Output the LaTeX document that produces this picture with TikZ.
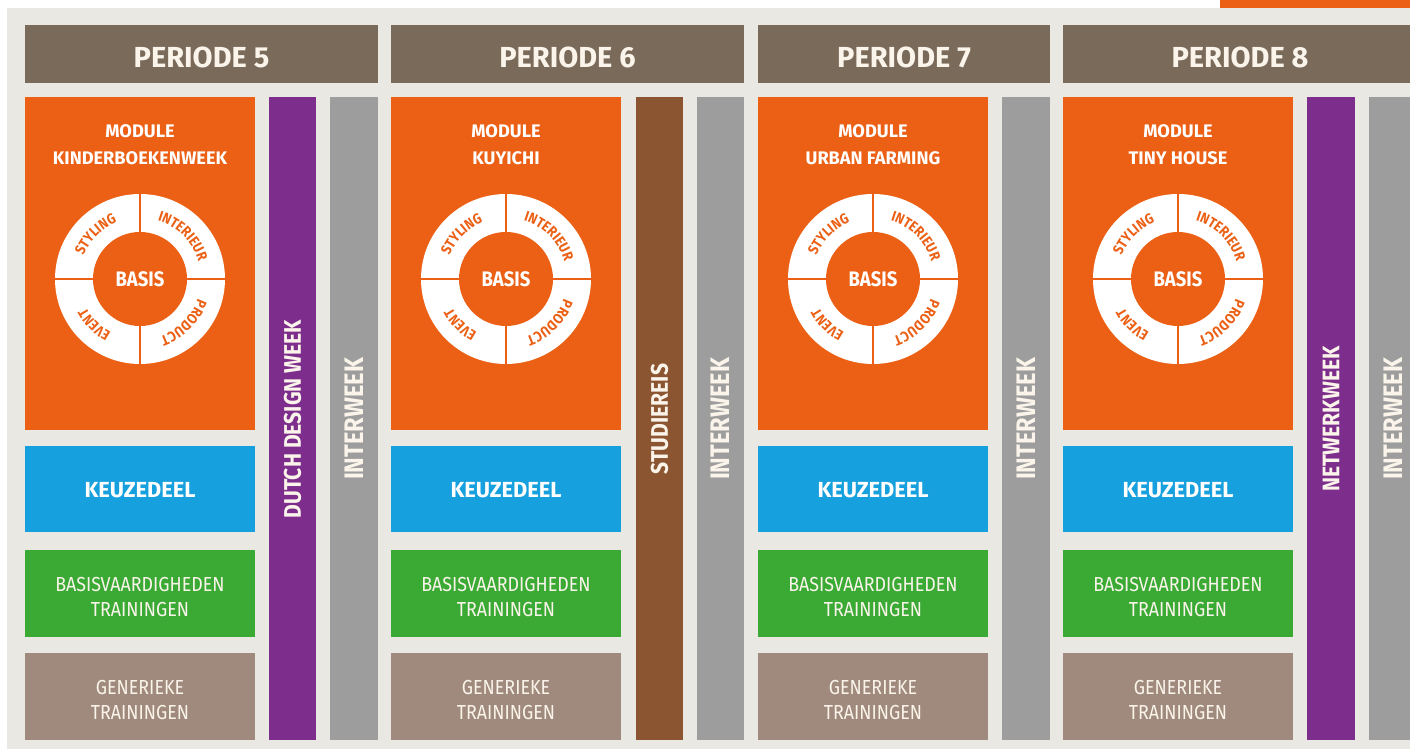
\documentclass[tikz,border=0pt]{standalone}
\usepackage{fontspec}
\setmainfont{Fira Sans}
\newfontfamily\narrowfont{Fira Sans}[FakeStretch=0.88]
\usetikzlibrary{decorations.text}

\definecolor{pagegray}{RGB}{233,232,227}
\definecolor{modorange}{RGB}{235,96,20}
\definecolor{headbrown}{RGB}{122,106,90}
\definecolor{keuzeblue}{RGB}{23,160,222}
\definecolor{basisgreen}{RGB}{58,170,53}
\definecolor{genbrown}{RGB}{160,138,125}
\definecolor{weekpurple}{RGB}{125,45,140}
\definecolor{reisbrown}{RGB}{140,85,50}
\definecolor{intergray}{RGB}{157,157,157}
\definecolor{creamtext}{RGB}{250,244,234}

\newcommand\ringfont{\narrowfont\bfseries\fontsize{14.5}{14.5}\selectfont}
\tikzset{
	head/.style={text=creamtext, inner sep=0pt, font=\bfseries\fontsize{29}{29}\selectfont},
	modtitle/.style={text=white, inner sep=0pt, align=center, font=\bfseries\fontsize{18.2}{27}\selectfont},
	basis/.style={text=white, inner sep=0pt, font=\narrowfont\bfseries\fontsize{21}{21}\selectfont},
	keuze/.style={text=white, inner sep=0pt, font=\bfseries\fontsize{21.8}{21.8}\selectfont},
	training/.style={text=creamtext, inner sep=0pt, align=center, font=\narrowfont\fontsize{20.3}{25}\selectfont},
	weektext/.style={text=creamtext, inner sep=0pt, rotate=90, font=\narrowfont\bfseries\fontsize{24}{24}\selectfont},
	intertext/.style={weektext, font=\narrowfont\bfseries\fontsize{26.8}{26.8}\selectfont},
	ringtext/.style={decorate, decoration={text along path, text align=center, text color=modorange, text={|\ringfont|#1}}}
}
% wheel: centre x, centre y, name of the centre node
\newcommand\wheel[3]{
	\fill[white] (#1,#2) circle (85);
	\draw[modorange, line width=2.5] ({#1-86},#2) -- ({#1+86},#2);
	\draw[modorange, line width=2.5] (#1,{#2-86}) -- (#1,{#2+86});
	\fill[modorange] (#1,#2) circle (47);
	\node[basis] (#3) at (#1,#2) {BASIS};
	\path[ringtext=STYLING] (#1,#2) ++(180:61) arc[start angle=180, end angle=90, radius=61];
	\path[ringtext=INTERIEUR] (#1,#2) ++(90:61) arc[start angle=90, end angle=0, radius=61];
	\path[ringtext=PRODUCT] (#1,#2) ++(0:61) arc[start angle=0, end angle=-90, radius=61];
	\path[ringtext=EVENT] (#1,#2) ++(-90:61) arc[start angle=-90, end angle=-180, radius=61];
}

\begin{document}
\begin{tikzpicture}[x=1pt, y=1pt]
	%%%%% START %%%%%
	\useasboundingbox (0,0) rectangle (1410,749);
	\fill[white] (0,0) rectangle (1410,749);
	\fill[pagegray] (7,0) rectangle (1410,741);
	\fill[modorange] (1220,741) rectangle (1410,749);
	
	%%%%% PERIODE 5 %%%%%
	\fill[headbrown] (25,666) rectangle (378,724);
	\node[head] (per5) at (201.5,692) {PERIODE 5};
	
	\fill[modorange] (25,319) rectangle (255,652);
	\node[modtitle] (mod5) at (140,604) {MODULE\\KINDERBOEKENWEEK};
	\wheel{140}{470}{basis5}
	
	\fill[keuzeblue] (25,217) rectangle (255,303);
	\node[keuze] (keuze5) at (140,259) {KEUZEDEEL};
	\fill[basisgreen] (25,112) rectangle (255,199);
	\node[training] (train5) at (140,152) {BASISVAARDIGHEDEN\\TRAININGEN};
	\fill[genbrown] (25,9) rectangle (255,96);
	\node[training] (gen5) at (140,49) {GENERIEKE\\TRAININGEN};
	
	\fill[weekpurple] (269,9) rectangle (316,652);
	\node[weektext] (ddw5) at (292.5,330) {DUTCH DESIGN WEEK};
	\fill[intergray] (330,9) rectangle (378,652);
	\node[intertext] (inter5) at (354,330) {INTERWEEK};
	
	%%%%% PERIODE 6 %%%%%
	\fill[headbrown] (391,666) rectangle (744,724);
	\node[head] (per6) at (567.5,692) {PERIODE 6};
	
	\fill[modorange] (391,319) rectangle (621,652);
	\node[modtitle] (mod6) at (506,604) {MODULE\\KUYICHI};
	\wheel{506}{470}{basis6}
	
	\fill[keuzeblue] (391,217) rectangle (621,303);
	\node[keuze] (keuze6) at (506,259) {KEUZEDEEL};
	\fill[basisgreen] (391,112) rectangle (621,199);
	\node[training] (train6) at (506,152) {BASISVAARDIGHEDEN\\TRAININGEN};
	\fill[genbrown] (391,9) rectangle (621,96);
	\node[training] (gen6) at (506,49) {GENERIEKE\\TRAININGEN};
	
	\fill[reisbrown] (636,9) rectangle (683,652);
	\node[weektext] (reis6) at (659.5,330) {STUDIEREIS};
	\fill[intergray] (697,9) rectangle (744,652);
	\node[intertext] (inter6) at (720.5,330) {INTERWEEK};
	
	%%%%% PERIODE 7 %%%%%
	\fill[headbrown] (758,666) rectangle (1050,724);
	\node[head] (per7) at (904,692) {PERIODE 7};
	
	\fill[modorange] (758,319) rectangle (988,652);
	\node[modtitle] (mod7) at (873,604) {MODULE\\URBAN FARMING};
	\wheel{873}{470}{basis7}
	
	\fill[keuzeblue] (758,217) rectangle (988,303);
	\node[keuze] (keuze7) at (873,259) {KEUZEDEEL};
	\fill[basisgreen] (758,112) rectangle (988,199);
	\node[training] (train7) at (873,152) {BASISVAARDIGHEDEN\\TRAININGEN};
	\fill[genbrown] (758,9) rectangle (988,96);
	\node[training] (gen7) at (873,49) {GENERIEKE\\TRAININGEN};
	
	\fill[intergray] (1002,9) rectangle (1050,652);
	\node[intertext] (inter7) at (1026,330) {INTERWEEK};
	
	%%%%% PERIODE 8 %%%%%
	\fill[headbrown] (1063,666) rectangle (1410,724);
	\node[head] (per8) at (1240,692) {PERIODE 8};
	
	\fill[modorange] (1063,319) rectangle (1293,652);
	\node[modtitle] (mod8) at (1178,604) {MODULE\\TINY HOUSE};
	\wheel{1178}{470}{basis8}
	
	\fill[keuzeblue] (1063,217) rectangle (1293,303);
	\node[keuze] (keuze8) at (1178,259) {KEUZEDEEL};
	\fill[basisgreen] (1063,112) rectangle (1293,199);
	\node[training] (train8) at (1178,152) {BASISVAARDIGHEDEN\\TRAININGEN};
	\fill[genbrown] (1063,9) rectangle (1293,96);
	\node[training] (gen8) at (1178,49) {GENERIEKE\\TRAININGEN};
	
	\fill[weekpurple] (1307,9) rectangle (1355,652);
	\node[weektext] (netwerk8) at (1331,330) {NETWERKWEEK};
	\fill[intergray] (1369,9) rectangle (1417,652);
	\node[intertext] (inter8) at (1393,330) {INTERWEEK};
	
	%%%%% END %%%%%
\end{tikzpicture}
\end{document}
